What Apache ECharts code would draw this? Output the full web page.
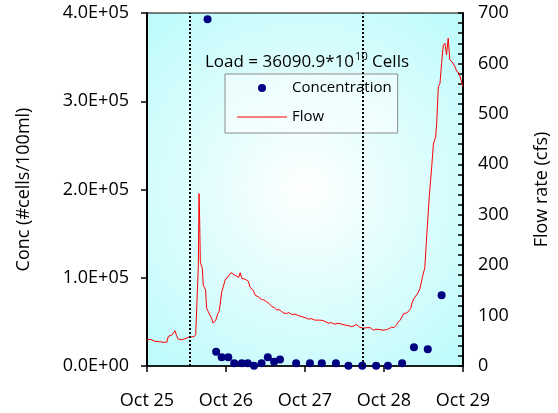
<!DOCTYPE html>
<html>
<head>
<meta charset="utf-8">
<script src="https://cdn.jsdelivr.net/npm/echarts@6/dist/echarts.min.js"></script>
<style>
  html, body { margin: 0; padding: 0; background: #ffffff; }
  #chart { width: 558px; height: 413px; }
</style>
</head>
<body>
<div id="chart"></div>
<script>
// Day labels on the time axis (hours since Oct 25 00:00)
const dayLabels = ['Oct 25', 'Oct 26', 'Oct 27', 'Oct 28', 'Oct 29'];

// Stream flow record (cfs), hours since Oct 25 00:00
const flowHours = [
  0.0, 0.9, 2.4, 3.9, 5.2, 6.0, 6.5, 7.5, 8.0, 8.5, 9.0, 9.5, 10.6, 11.5, 12.5,
  13.6, 14.3, 14.8, 15.2, 15.6, 15.8, 16.0, 16.2, 16.8, 17.1, 17.4, 17.8, 18.1,
  18.6, 19.1, 19.6, 20.1, 20.7, 20.9, 21.5, 21.9, 22.2, 22.7, 23.1, 23.7, 24.7,
  25.5, 26.1, 26.7, 27.3, 27.9, 28.3, 28.8, 29.3, 29.8, 30.4, 30.8, 31.3, 31.9,
  32.3, 32.8, 33.3, 33.8, 34.8, 35.5, 36.4, 37.1, 37.9, 38.6, 39.4, 40.1, 40.9,
  41.6, 42.4, 43.1, 44.0, 45.0, 45.9, 47.0, 48.0, 49.0, 49.8, 51.0, 52.6, 53.5,
  54.1, 55.1, 55.9, 57.1, 58.0, 58.6, 60.2, 61.1, 62.2, 62.9, 63.7, 64.5, 65.7,
  66.8, 67.8, 68.8, 69.6, 70.8, 71.7, 72.8, 73.5, 74.3, 75.0, 75.8, 76.2, 76.9,
  77.9, 78.4, 79.1, 79.6, 80.1, 80.5, 81.1, 81.9, 82.3, 82.9, 83.7, 84.4, 84.9,
  85.4, 85.8, 86.5, 87.0, 87.7, 88.0, 88.5, 89.0, 89.5, 90.0, 90.5, 91.0, 91.5,
  92.0, 92.7, 93.6, 94.1, 94.8, 95.4, 96.0
];
const flowCfs = [
  52, 53, 49, 48, 47, 47, 59, 61, 62, 70, 60, 53, 52, 54, 57,
  58, 58, 62, 63, 200, 342, 290, 206, 194, 160, 157, 151, 115,
  108, 101, 95, 85, 88, 91, 104, 108, 121, 147, 155, 170, 178,
  185, 182, 180, 178, 176, 185, 174, 177, 172, 171, 168, 156, 157,
  150, 141, 143, 137, 132, 131, 127, 124, 118, 116, 111, 112, 108,
  105, 104, 106, 102, 103, 100, 98, 96, 93, 94, 91, 91, 90,
  91, 85, 86, 83, 85, 84, 81, 80, 78, 80, 82, 77, 75,
  76, 76, 71, 73, 72, 71, 72, 74, 77, 76, 81, 86, 91,
  103, 102, 106, 105, 114, 125, 134, 141, 145, 153, 177, 195, 250,
  300, 340, 395, 440, 455, 480, 554, 560, 600, 636, 640, 617, 650,
  607, 603, 593, 584, 581, 567, 554
];

// Bacteria samples (#cells/100ml)
const concHours = [
  18.4, 21.0, 22.7, 24.7, 26.5, 28.8, 30.6, 32.5, 34.8, 36.7, 38.6, 40.4,
  45.3, 49.5, 53.1, 57.4, 61.2, 65.4, 69.6, 73.2, 77.5, 81.1, 85.3, 89.5
];
const concValues = [
  392900, 16200, 9900, 9900, 3100, 3100, 3100, 400, 3100, 9900, 4900, 7500,
  3100, 3100, 3100, 3100, 400, 400, 400, 400, 3100, 21200, 18900, 80100
];

// Sampling-period boundaries (hours)
const stormMarks = [13.1, 65.4];

const FONT = '"Open Sans", "DejaVu Sans", sans-serif';

function sci(v) {
  if (v === 0) return '0.0E+00';
  const e = Math.floor(Math.log10(v));
  const m = v / Math.pow(10, e);
  return m.toFixed(1) + 'E+' + (e < 10 ? '0' + e : String(e));
}

const chart = echarts.init(document.getElementById('chart'), null, { renderer: 'canvas' });

const option = {
  animation: false,
  backgroundColor: '#ffffff',
  textStyle: { fontFamily: FONT, color: '#000' },
  title: {
    left: 205,
    top: 51,
    padding: 0,
    text: '{a|Load = 36090.9*10}{s|10}{a| Cells}',
    textStyle: {
      fontWeight: 'normal',
      rich: {
        a: { fontFamily: FONT, fontSize: 17, fontWeight: 'normal', color: '#000', lineHeight: 22, verticalAlign: 'middle' },
        s: { fontFamily: FONT, fontSize: 11, fontWeight: 'normal', color: '#000', lineHeight: 12, verticalAlign: 'top', padding: [0, 0, 0, 1] }
      }
    }
  },
  legend: {
    left: 225,
    top: 74,
    orient: 'vertical',
    padding: [5, 6, 7, 12],
    itemWidth: 50,
    itemHeight: 8,
    itemGap: 11,
    backgroundColor: 'rgba(255,255,255,0.45)',
    borderColor: '#8c8c8c',
    borderWidth: 1,
    borderRadius: 0,
    textStyle: { fontFamily: FONT, fontSize: 15, color: '#000', lineHeight: 18 },
    data: [
      { name: 'Concentration', icon: 'circle' },
      { name: 'Flow', icon: 'path://M0,0H50V1H0Z' }
    ]
  },
  grid: {
    left: 147,
    right: 95,
    top: 13,
    bottom: 47,
    show: true,
    borderColor: '#000',
    borderWidth: 1,
    backgroundColor: new echarts.graphic.RadialGradient(0.5, 0.5, 0.7, [
      { offset: 0, color: '#ffffff' },
      { offset: 1, color: '#c0fbfb' }
    ]),
    containLabel: false,
    outerBoundsMode: 'none'
  },
  xAxis: {
    type: 'value',
    min: 0,
    max: 96,
    interval: 24,
    axisLine: { lineStyle: { color: '#000', width: 1.5 } },
    axisTick: { inside: false, length: 6, lineStyle: { color: '#000', width: 1.5 } },
    splitLine: { show: false },
    axisLabel: {
      margin: 26,
      fontFamily: FONT,
      fontSize: 18,
      color: '#000',
      formatter: function (v) { return dayLabels[Math.round(v / 24)]; }
    }
  },
  yAxis: [
    {
      type: 'value',
      position: 'left',
      min: 0,
      max: 400000,
      interval: 100000,
      name: 'Conc (#cells/100ml)',
      nameLocation: 'middle',
      nameGap: 114,
      nameTextStyle: { fontFamily: FONT, fontSize: 18, color: '#000' },
      axisLine: { show: true, lineStyle: { color: '#000', width: 2 } },
      axisTick: { show: true, inside: false, length: 6, lineStyle: { color: '#000', width: 1.5 } },
      splitLine: { show: false },
      axisLabel: { margin: 18, fontFamily: FONT, fontSize: 18, color: '#000', formatter: sci }
    },
    {
      type: 'value',
      position: 'right',
      min: 0,
      max: 700,
      interval: 20,
      name: 'Flow rate (cfs)',
      nameLocation: 'middle',
      nameGap: 70,
      nameTextStyle: { fontFamily: FONT, fontSize: 18, color: '#000' },
      axisLine: { show: true, lineStyle: { color: '#000', width: 2 } },
      axisTick: { show: true, inside: true, length: 5, lineStyle: { color: '#000', width: 1.5 } },
      splitLine: { show: false },
      axisLabel: {
        margin: 15,
        fontFamily: FONT,
        fontSize: 18,
        color: '#000',
        showMinLabel: true,
        showMaxLabel: true,
        formatter: function (v) { return v % 100 === 0 ? String(v) : ''; }
      }
    }
  ],
  series: [
    {
      name: 'Flow',
      type: 'line',
      yAxisIndex: 1,
      symbol: 'none',
      lineStyle: { color: '#ff0000', width: 1 },
      itemStyle: { color: '#ff0000' },
      data: flowHours.map(function (h, i) { return [h, flowCfs[i]]; }),
      markLine: {
        silent: true,
        symbol: 'none',
        label: { show: false },
        lineStyle: { color: '#000', type: 'dotted', width: 2 },
        data: stormMarks.map(function (h) { return { xAxis: h }; })
      },
      z: 2
    },
    {
      name: 'Concentration',
      type: 'scatter',
      yAxisIndex: 0,
      symbol: 'circle',
      symbolSize: 8,
      itemStyle: { color: '#000080', opacity: 1 },
      data: concHours.map(function (h, i) { return [h, concValues[i]]; }),
      z: 3
    }
  ]
};

chart.setOption(option);
</script>
</body>
</html>
